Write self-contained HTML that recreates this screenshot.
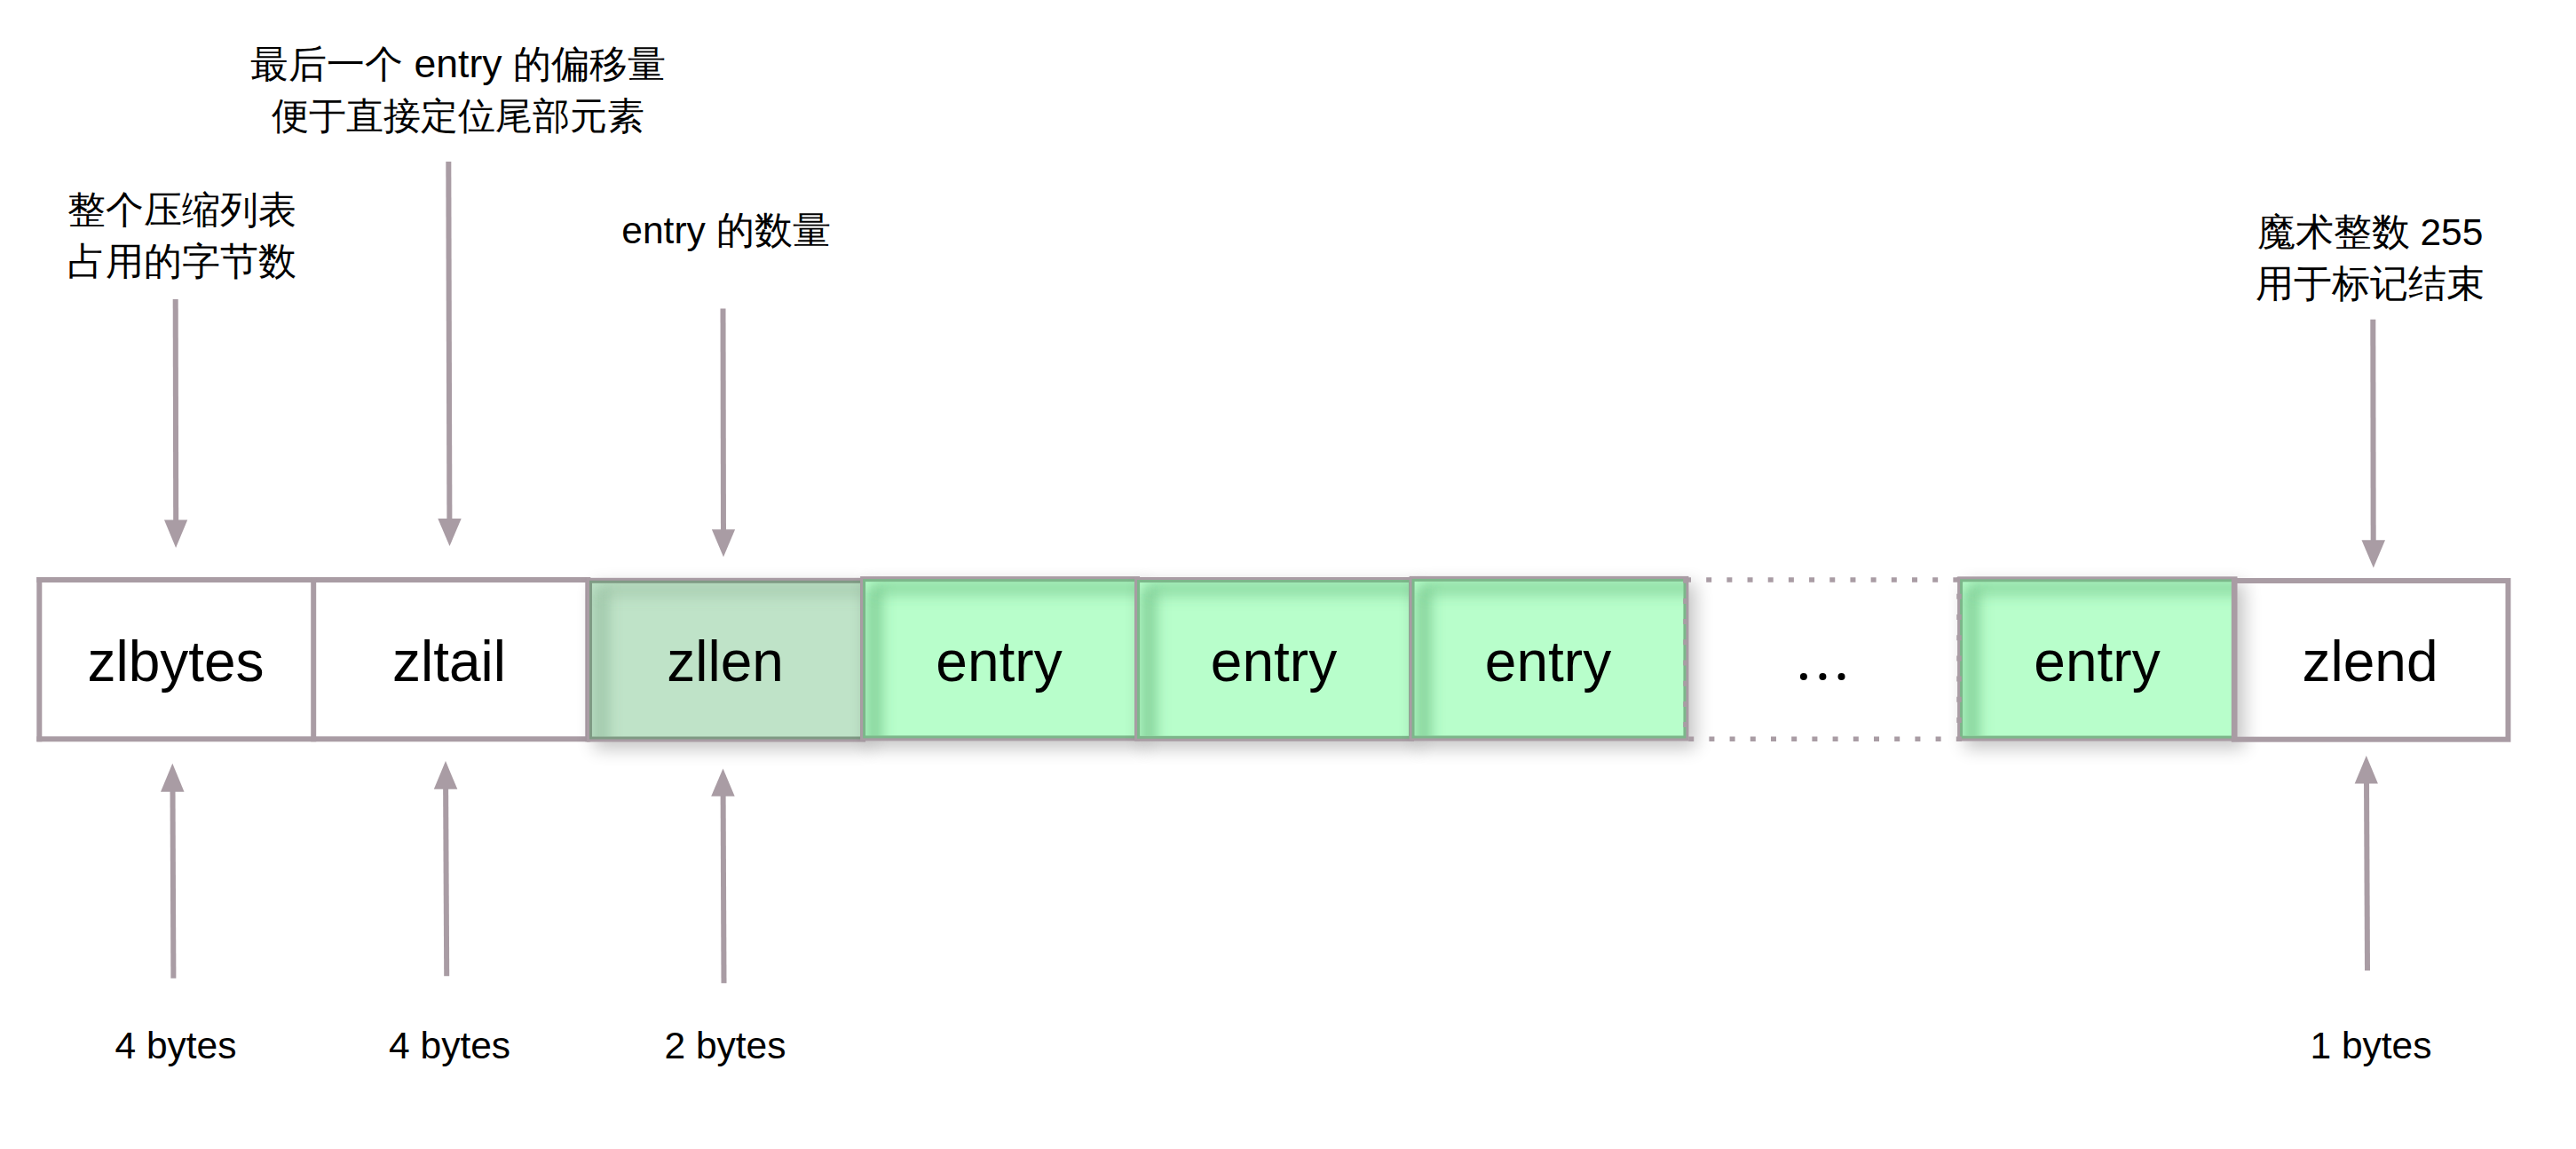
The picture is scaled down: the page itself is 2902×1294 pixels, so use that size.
<!DOCTYPE html>
<html><head><meta charset="utf-8">
<style>
html,body{margin:0;padding:0;background:#fff;}
body{width:2902px;height:1294px;position:relative;overflow:hidden;font-family:"Liberation Sans",sans-serif;color:#000;}
.t{position:absolute;white-space:nowrap;line-height:1;}
.lab{font-size:64px;}
.sm{font-size:42.5px;}
.c{transform:translateX(-50%);text-align:center;}
svg{position:absolute;left:0;top:0;}
</style></head>
<body>
<svg width="2902" height="1294" viewBox="0 0 2902 1294">
<defs>
<filter id="ds" x="-20%" y="-50%" width="140%" height="200%" color-interpolation-filters="sRGB">
<feGaussianBlur in="SourceAlpha" stdDeviation="10"/>
<feOffset dx="8" dy="8"/>
<feComponentTransfer><feFuncA type="linear" slope="0.23"/></feComponentTransfer>
<feMerge><feMergeNode/><feMergeNode in="SourceGraphic"/></feMerge>
</filter>
<filter id="ib" filterUnits="userSpaceOnUse" x="0" y="500" width="2902" height="500"><feGaussianBlur stdDeviation="8"/></filter>

<clipPath id="c0"><rect x="667.0" y="656.8" width="302.0" height="172.70000000000005"/></clipPath>
<clipPath id="c1"><rect x="975.1" y="655.1" width="302.9" height="173.29999999999995"/></clipPath>
<clipPath id="c2"><rect x="1284.1" y="656.0" width="302.9000000000001" height="172.79999999999995"/></clipPath>
<clipPath id="c3"><rect x="1593.6" y="654.9" width="302.8000000000002" height="173.60000000000002"/></clipPath>
<clipPath id="c4"><rect x="2211.1" y="655.3" width="303.4000000000001" height="173.30000000000007"/></clipPath>
</defs>
<g fill="#a99ca4">
<rect x="41.3" y="650" width="623" height="6"/>
<rect x="41.3" y="829.3" width="623" height="6"/>
<rect x="41.3" y="650" width="6" height="185.3"/>
<rect x="350.2" y="650" width="6" height="185.3"/>
<rect x="659.3" y="650" width="6" height="185.3"/>
</g>
<g filter="url(#ds)">
<rect x="661.0" y="650.8" width="314.0" height="184.70000000000005" fill="#a99ca4"/>
<rect x="664.0" y="653.8" width="308.0" height="178.70000000000005" fill="#7f9a84"/>
<rect x="667.0" y="656.8" width="302.0" height="172.70000000000005" fill="#bfe3c8"/>
<g clip-path="url(#c0)"><path d="M677.0 865.5 L677.0 663.8" fill="none" stroke="#5f8a68" stroke-opacity="0.36" stroke-width="15" filter="url(#ib)"/><path d="M677.0 663.8 L1005.0 663.8" fill="none" stroke="#5f8a68" stroke-opacity="0.26" stroke-width="14" filter="url(#ib)"/></g>
</g>
<g filter="url(#ds)">
<rect x="969.1" y="649.1" width="314.9" height="185.29999999999995" fill="#a99ca4"/>
<rect x="972.1" y="652.1" width="308.9" height="179.29999999999995" fill="#7cb78a"/>
<rect x="975.1" y="655.1" width="302.9" height="173.29999999999995" fill="#b8fecb"/>
<g clip-path="url(#c1)"><path d="M985.1 864.4 L985.1 662.1" fill="none" stroke="#3f9a5a" stroke-opacity="0.5" stroke-width="15" filter="url(#ib)"/><path d="M985.1 662.1 L1314.0 662.1" fill="none" stroke="#3f9a5a" stroke-opacity="0.4" stroke-width="14" filter="url(#ib)"/></g>
</g>
<g filter="url(#ds)">
<rect x="1278.1" y="650.0" width="314.9000000000001" height="184.79999999999995" fill="#a99ca4"/>
<rect x="1281.1" y="653.0" width="308.9000000000001" height="178.79999999999995" fill="#7cb78a"/>
<rect x="1284.1" y="656.0" width="302.9000000000001" height="172.79999999999995" fill="#b8fecb"/>
<g clip-path="url(#c2)"><path d="M1294.1 864.8 L1294.1 663.0" fill="none" stroke="#3f9a5a" stroke-opacity="0.5" stroke-width="15" filter="url(#ib)"/><path d="M1294.1 663.0 L1623.0 663.0" fill="none" stroke="#3f9a5a" stroke-opacity="0.4" stroke-width="14" filter="url(#ib)"/></g>
</g>
<g filter="url(#ds)">
<rect x="1587.6" y="648.9" width="314.8000000000002" height="185.60000000000002" fill="#a99ca4"/>
<rect x="1590.6" y="651.9" width="308.8000000000002" height="179.60000000000002" fill="#7cb78a"/>
<rect x="1593.6" y="654.9" width="302.8000000000002" height="173.60000000000002" fill="#b8fecb"/>
<g clip-path="url(#c3)"><path d="M1603.6 864.5 L1603.6 661.9" fill="none" stroke="#3f9a5a" stroke-opacity="0.5" stroke-width="15" filter="url(#ib)"/><path d="M1603.6 661.9 L1932.4 661.9" fill="none" stroke="#3f9a5a" stroke-opacity="0.4" stroke-width="14" filter="url(#ib)"/></g>
</g>
<g filter="url(#ds)">
<rect x="2205.1" y="649.3" width="315.4000000000001" height="185.30000000000007" fill="#a99ca4"/>
<rect x="2208.1" y="652.3" width="309.4000000000001" height="179.30000000000007" fill="#7cb78a"/>
<rect x="2211.1" y="655.3" width="303.4000000000001" height="173.30000000000007" fill="#b8fecb"/>
<g clip-path="url(#c4)"><path d="M2221.1 864.6 L2221.1 662.3" fill="none" stroke="#3f9a5a" stroke-opacity="0.5" stroke-width="15" filter="url(#ib)"/><path d="M2221.1 662.3 L2550.5 662.3" fill="none" stroke="#3f9a5a" stroke-opacity="0.4" stroke-width="14" filter="url(#ib)"/></g>
</g>
<g stroke="#a99ca4" stroke-width="5.5" fill="none">
<line x1="1899" y1="653" x2="2207" y2="653" stroke-dasharray="6 17.18"/>
<line x1="1902.2" y1="832.2" x2="2210" y2="832.2" stroke-dasharray="6 17.2"/>
<line x1="1899" y1="650" x2="1899" y2="835" stroke-dasharray="6 17.2" stroke-dashoffset="-0.7"/>
<line x1="2207" y1="650" x2="2207" y2="835" stroke-dasharray="6 17.2" stroke-dashoffset="-18.8"/>
</g>
<rect x="2516.8" y="654" width="308.7" height="178.7" fill="none" stroke="#a99ca4" stroke-width="6"/>
<g stroke="#a99ca4" stroke-width="6" fill="none">
<line x1="197.7" y1="337" x2="198.2" y2="590"/>
<line x1="505.3" y1="182" x2="506.4" y2="588"/>
<line x1="814.5" y1="347.4" x2="815" y2="600"/>
<line x1="2673.3" y1="359.8" x2="2673.7" y2="612"/>
<line x1="195.4" y1="1101.8" x2="194.5" y2="887"/>
<line x1="503.2" y1="1099.2" x2="502.1" y2="884"/>
<line x1="815.5" y1="1107.2" x2="814.6" y2="892"/>
<line x1="2667" y1="1092.9" x2="2666" y2="878"/>
</g>
<g fill="#a99ca4">
<polygon points="185,585.6 211.2,585.6 198.1,617"/>
<polygon points="493.3,584.1 519.7,584.1 506.5,615.1"/>
<polygon points="801.9,596.2 828.1,596.2 815,627.3"/>
<polygon points="2660.5,608.2 2687,608.2 2673.8,639.4"/>
<polygon points="181,891.8 207.5,891.8 194.3,859.8"/>
<polygon points="488.8,888.8 515.3,888.8 502,857.1"/>
<polygon points="801.2,896.8 827.7,896.8 814.5,865.4"/>
<polygon points="2652.7,882.5 2678.9,882.5 2665.8,851.1"/>
</g>
<g fill="#000">
<circle cx="2031.9" cy="762" r="4"/>
<circle cx="2053.4" cy="762" r="4"/>
<circle cx="2074.5" cy="762" r="4"/>
</g>
</svg>

<div class="t lab c" style="left:198px;top:713px">zlbytes</div>
<div class="t lab c" style="left:506px;top:713px">zltail</div>
<div class="t lab c" style="left:817px;top:713px">zllen</div>
<div class="t lab c" style="left:1125.5px;top:713px">entry</div>
<div class="t lab c" style="left:1435px;top:713px">entry</div>
<div class="t lab c" style="left:1744px;top:713px">entry</div>
<div class="t lab c" style="left:2362.5px;top:713px">entry</div>
<div class="t lab c" style="left:2670px;top:713px">zlend</div>

<div class="t sm c" style="left:516px;top:43px;line-height:58px;">最后一个<span style="font-size:44px;word-spacing:0"> </span><span style="font-size:44.5px">entry</span><span style="font-size:44px"> </span>的偏移量<br><span style="font-size:41.9px">便于直接定位尾部元素</span></div>
<div class="t sm c" style="left:205px;top:208px;line-height:58px;">整个压缩列表<br>占用的字节数</div>
<div class="t sm c" style="left:818px;top:231px;line-height:58px;">entry 的数量</div>
<div class="t sm c" style="left:2670px;top:232.5px;line-height:58px;">魔术整数 255<br>用于标记结束</div>

<div class="t sm c" style="left:198px;top:1157px">4 bytes</div>
<div class="t sm c" style="left:506.6px;top:1157px">4 bytes</div>
<div class="t sm c" style="left:817px;top:1157px">2 bytes</div>
<div class="t sm c" style="left:2671px;top:1157px">1 bytes</div>
</body></html>
